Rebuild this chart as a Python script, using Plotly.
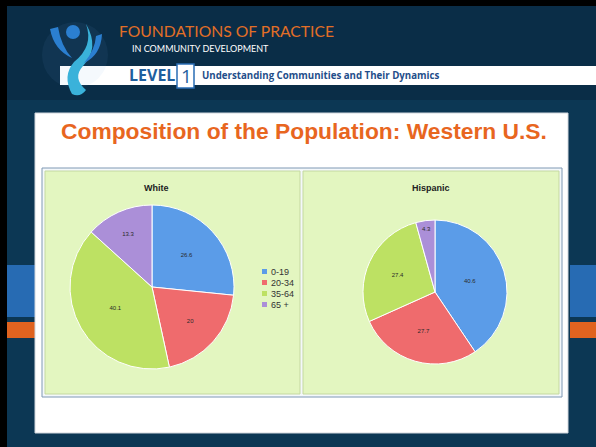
import plotly.graph_objects as go

# data
age_groups = ["0-19", "20-34", "35-64", "65 +"]
white_pct = [26.6, 20, 40.1, 13.3]
hispanic_pct = [40.6, 27.7, 27.4, 4.3]
slice_colors = ["#5b9ce8", "#ef6b6d", "#bde163", "#ab8fd8"]

W, H = 596, 447
NAVY = "#0c3754"


def dom(x0, x1, y0, y1):
    # pixel box -> paper domain
    return dict(x=[x0 / W, x1 / W], y=[1 - y1 / H, 1 - y0 / H])


def rect(x0, y0, x1, y1, fill, line=None, lw=0):
    return dict(type="rect", xref="x", yref="y", x0=x0, y0=y0, x1=x1, y1=y1,
                fillcolor=fill, line=dict(color=line or fill, width=lw), layer="below")


fig = go.Figure()
# invisible scatter so the pixel axes exist
fig.add_trace(go.Scatter(x=[0, W], y=[0, H], mode="markers",
                         marker=dict(opacity=0), hoverinfo="skip", showlegend=False))

pie_style = dict(sort=False, direction="clockwise", rotation=0,
                 textinfo="text", textposition="inside", insidetextorientation="horizontal",
                 textfont=dict(size=6, color="#2a2a2a", family="Liberation Sans"),
                 marker=dict(colors=slice_colors, line=dict(color="#ffffff", width=1)),
                 hoverinfo="label+value", showlegend=False)

fig.add_trace(go.Pie(labels=age_groups, values=white_pct, text=[str(v) for v in white_pct],
                     domain=dom(70, 234, 205, 369), **pie_style))
fig.add_trace(go.Pie(labels=age_groups, values=hispanic_pct, text=[str(v) for v in hispanic_pct],
                     domain=dom(363, 507, 220, 364), **pie_style))

shapes = [
    rect(0, 0, W, H, "#000000"),
    rect(7, 6, W, H, NAVY),
    rect(7, 6, W, 100, "#0a2d47"),
    # side bands
    rect(7, 265, 35, 317, "#276bb3"),
    rect(570, 265, W, 317, "#276bb3"),
    rect(7, 322, 35, 338, "#e0631f"),
    rect(570, 322, W, 338, "#e0631f"),
    # header band
    rect(60, 66, W, 85, "#ffffff"),
    dict(type="rect", xref="x", yref="y", x0=177, y0=64, x1=194, y1=88,
         fillcolor="#ffffff", line=dict(color="#2a6db5", width=1.5)),
    # content panel
    rect(35, 113, 568, 433, "#ffffff", "#d0d6dc", 1),
    rect(42, 168, 562, 397, "#f4f8fb", "#7e98b4", 1),
    rect(45, 171, 300, 394, "#e3f6c0", "#c4d8a0", 1),
    rect(303, 171, 559, 394, "#e3f6c0", "#c4d8a0", 1),
    # logo
    dict(type="circle", xref="x", yref="y", x0=42, y0=22, x1=108, y1=88,
         fillcolor="rgba(120,170,220,0.07)", line=dict(width=0)),
    dict(type="path", xref="x", yref="y", fillcolor="#3ab2da", line=dict(width=0),
         path="M 86,24 Q 94,46 74,62 Q 62,76 72,94 Q 80,98 86,90 Q 72,78 83,66 Q 100,48 86,24 Z"),
    dict(type="circle", xref="x", yref="y", x0=66, y0=25, x1=80, y1=39,
         fillcolor="#2b7fd0", line=dict(width=0)),
    dict(type="path", xref="x", yref="y", fillcolor="#2b7fd0", line=dict(width=0),
         path="M 50,29 Q 54,50 72,58 Q 61,46 58,27 Z"),
    dict(type="path", xref="x", yref="y", fillcolor="#2b7fd0", line=dict(width=0),
         path="M 102,34 Q 101,55 84,63 Q 95,50 96,36 Z"),
]

# manual legend for the White chart
for i, (lab, col) in enumerate(zip(age_groups, slice_colors)):
    yy = 272 + i * 11
    shapes.append(dict(type="rect", xref="x", yref="y", x0=262, y0=yy - 3, x1=267, y1=yy + 2,
                       fillcolor=col, line=dict(width=0)))
    fig.add_annotation(x=269, y=yy, text=lab, xref="x", yref="y", xanchor="left",
                       yanchor="middle", showarrow=False,
                       font=dict(size=9, color="#333333", family="Liberation Sans"))

texts = [
    dict(x=117, y=31, text="FOUNDATIONS OF PRACTICE", size=15.7, color="#e26f26", family="Lato"),
    dict(x=130, y=48.5, text="IN COMMUNITY DEVELOPMENT", size=9, color="#ffffff", family="Lato"),
    dict(x=127, y=75, text="<b>LEVEL</b>", size=16, color="#1f5f9e", family="Open Sans"),
    dict(x=179, y=76, text="1", size=19, color="#1f5f9e", family="Open Sans"),
    dict(x=200, y=75, text="<b>Understanding Communities and Their Dynamics</b>", size=9.7,
         color="#1f4e8a", family="Open Sans"),
]
for t in texts:
    fig.add_annotation(x=t["x"], y=t["y"], text=t["text"], xref="x", yref="y",
                       xanchor="left", yanchor="middle", showarrow=False,
                       font=dict(size=t["size"], color=t["color"], family=t["family"]))

fig.add_annotation(x=304, y=131, text="<b>Composition of the Population: Western U.S.</b>",
                   xref="x", yref="y", showarrow=False,
                   font=dict(size=22.8, color="#e8661f", family="Liberation Sans"))
fig.add_annotation(x=156, y=188, text="<b>White</b>", xref="x", yref="y", showarrow=False,
                   font=dict(size=9, color="#222222", family="Liberation Sans"))
fig.add_annotation(x=431, y=188, text="<b>Hispanic</b>", xref="x", yref="y", showarrow=False,
                   font=dict(size=9, color="#222222", family="Liberation Sans"))

fig.update_layout(
    width=W, height=H, autosize=False,
    margin=dict(l=0, r=0, t=0, b=0),
    paper_bgcolor=NAVY, plot_bgcolor=NAVY,
    shapes=shapes,
    xaxis=dict(range=[0, W], visible=False, fixedrange=True),
    yaxis=dict(range=[H, 0], visible=False, fixedrange=True),
)

fig.write_html("out.html", config={"displayModeBar": False},
               post_script="document.body.style.margin='0';")
